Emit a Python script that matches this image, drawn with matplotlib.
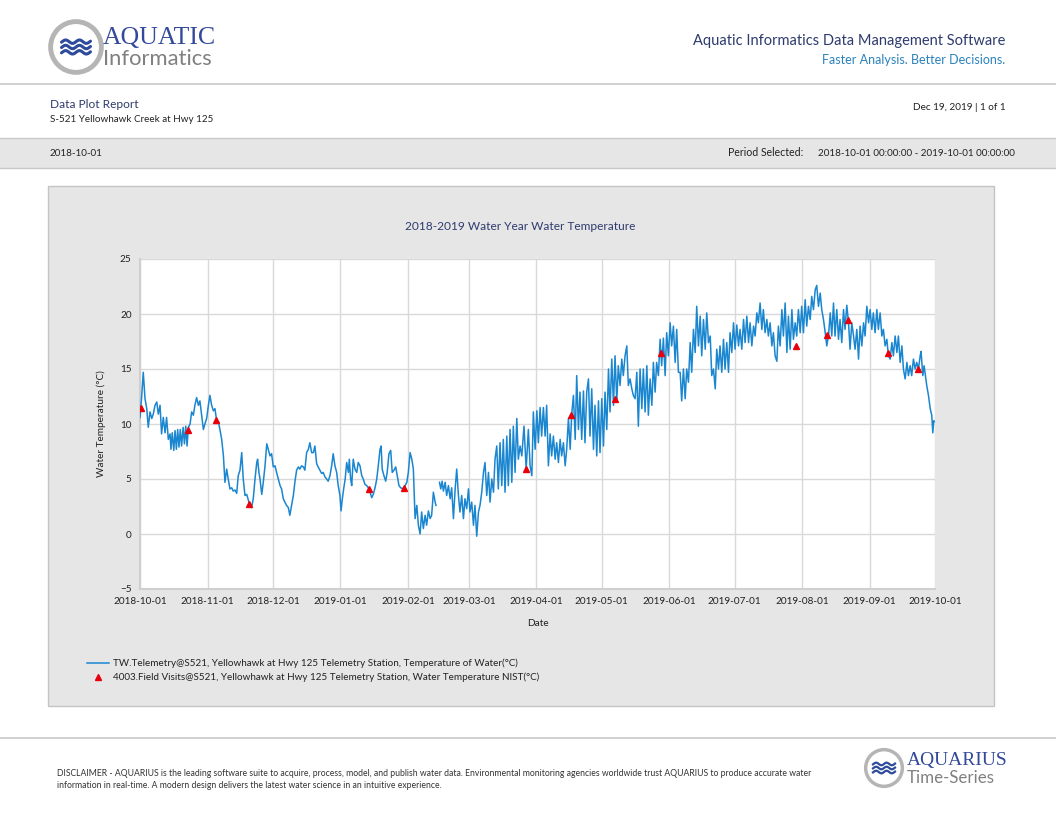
import numpy as np
import pandas as pd
import matplotlib
matplotlib.use("Agg")
import matplotlib.pyplot as plt
import matplotlib.dates as mdates
from matplotlib.patches import Rectangle, Circle
from matplotlib.lines import Line2D

# ---------------- data ----------------
start_date = "2018-10-01"
end_date = "2019-10-01"
y_ticks = [-5, 0, 5, 10, 15, 20, 25]

# Telemetry: days since 2018-10-01 and water temperature (°C)
tw_day = [
    0, 0.8, 1.5, 2.3, 3.1, 3.8, 4.6, 5.4, 6.1, 6.9, 7.7, 8.4, 9.2, 9.9, 10.7, 11.5, 12.2, 13.0, 13.8, 14.2,
    14.8, 15.5, 16.1, 16.7, 17.3, 17.9, 18.5, 19.1, 19.8, 20.4, 21.0, 21.6, 22.2, 23.0, 23.7, 24.5, 25.2, 26.0,
    26.8, 27.5, 28.3, 29.1, 29.8, 30.6, 31.4, 32.1, 32.9, 33.7, 34.4, 35.2, 36.0, 36.7, 37.5, 38.3, 39.0, 39.8,
    40.5, 41.3, 42.1, 42.8, 43.6, 44.4, 45.1, 45.9, 46.7, 47.4, 48.2, 49.0, 50.0, 51.2, 52.0, 52.8, 53.6, 54.0,
    54.6, 55.1, 55.9, 56.6, 57.4, 58.2, 58.9, 59.7, 60.4, 61.2, 62.0, 62.7, 63.5, 64.3, 65.0, 65.8, 66.5, 67.3,
    68.1, 68.8, 69.6, 70.4, 71.1, 71.9, 72.7, 73.4, 74.2, 75.0, 75.7, 76.5, 77.3, 78.0, 78.8, 79.6, 80.3, 81.1,
    81.8, 82.6, 83.4, 84.1, 84.9, 85.7, 86.4, 87.2, 88.0, 88.7, 89.5, 90.3, 91.0, 91.8, 92.3, 92.9, 93.5, 94.2,
    94.9, 95.7, 96.1, 96.7, 97.2, 97.9, 98.7, 99.5, 100.2, 101.0, 101.8, 102.5, 103.3, 104.1, 104.8, 105.6,
    106.4, 107.1, 107.9, 108.7, 109.4, 110.2, 110.7, 111.2, 112.0, 112.8, 113.5, 114.3, 115.1, 115.8, 116.6,
    117.4, 118.1, 118.9, 119.7, 120.9, 122.5, 123.2, 124.0, 124.8, 125.5, 126.3, 127.1, 127.8, 128.6, 129.3,
    130.1, 130.9, 131.6, 132.4, 133.2, 133.9, 134.7, 135.5, 135.9, 136.7, 137.5, 138.1, 138.7, 139.3, 140.1,
    140.8, 141.6, 142.4, 143.1, 143.9, 144.7, 145.4, 146.2, 146.9, 147.7, 148.5, 149.2, 150.0, 150.8, 151.5,
    152.3, 153.1, 153.8, 154.6, 155.4, 156.1, 156.9, 157.7, 158.4, 159.2, 160.0, 160.7, 161.5, 162.3, 163.0,
    163.8, 164.5, 165.3, 166.1, 166.8, 167.6, 168.4, 169.1, 169.9, 170.7, 171.4, 172.2, 173.0, 173.7, 174.5,
    175.3, 176.3, 177.3, 178.3, 179.1, 179.9, 180.6, 181.4, 182.2, 182.9, 183.7, 184.4, 185.2, 186.0, 186.7,
    187.5, 188.3, 189.0, 189.8, 190.6, 191.3, 192.1, 192.9, 193.6, 194.4, 195.2, 195.9, 196.7, 197.5, 198.2,
    199.0, 199.8, 200.5, 201.3, 202.0, 202.8, 203.6, 204.3, 205.1, 205.9, 206.6, 207.4, 208.2, 208.9, 209.7,
    210.5, 211.2, 212.0, 212.8, 213.5, 214.3, 215.1, 215.8, 216.6, 217.4, 218.1, 218.9, 219.6, 220.4, 221.2,
    221.9, 222.7, 223.5, 224.2, 225.0, 225.8, 226.5, 227.3, 228.1, 228.8, 229.6, 230.4, 231.1, 231.9, 232.7,
    233.4, 234.2, 235.0, 235.7, 236.5, 237.2, 238.0, 238.8, 239.5, 240.3, 241.1, 241.8, 242.6, 243.4, 244.1,
    244.9, 245.7, 246.4, 247.2, 248.0, 248.7, 249.5, 250.3, 251.0, 251.8, 252.6, 253.3, 254.1, 254.9, 255.6,
    256.4, 257.2, 257.9, 258.7, 259.5, 260.2, 261.0, 261.8, 262.5, 263.3, 264.1, 264.8, 265.6, 266.3, 267.1,
    267.9, 268.6, 269.4, 270.2, 270.9, 271.7, 272.5, 273.2, 274.0, 274.8, 275.5, 276.3, 277.1, 277.8, 278.6,
    279.4, 280.1, 280.9, 281.7, 282.4, 283.2, 283.9, 284.7, 285.5, 286.2, 287.0, 287.8, 288.5, 289.3, 290.1,
    290.8, 291.6, 292.4, 293.1, 293.9, 294.7, 295.4, 296.2, 297.0, 297.7, 298.5, 299.3, 300.0, 300.8, 301.5,
    302.3, 303.1, 303.8, 304.6, 305.4, 306.1, 306.9, 307.7, 308.4, 309.2, 310.0, 310.7, 311.5, 312.3, 313.0,
    313.8, 314.6, 315.3, 316.1, 316.9, 317.6, 318.4, 319.1, 319.9, 320.7, 321.4, 322.2, 323.0, 323.7, 324.5,
    325.3, 326.0, 326.8, 327.6, 328.3, 329.1, 329.9, 330.6, 331.4, 332.2, 332.9, 333.7, 334.5, 335.2, 336.0,
    336.7, 337.5, 338.3, 339.0, 339.8, 340.6, 341.3, 342.1, 342.9, 343.6, 344.4, 345.2, 345.9, 346.7, 347.5,
    348.2, 349.0, 349.8, 350.5, 351.3, 352.1, 352.8, 353.6, 354.3, 355.1, 355.9, 356.6, 357.4, 358.2, 358.6,
    359.4, 360.0, 360.8, 361.2, 362.0, 362.8, 363.5, 364.0, 364.4, 365.0,
]
tw_temp = [
    10.6, 12.6, 14.7, 12.3, 11.4, 9.7, 11.1, 10.5, 10.9, 11.7, 12.0, 10.9, 11.7, 9.1, 10.6, 9.2, 10.6, 8.6, 9.1, 7.7,
    9.2, 7.6, 9.4, 7.7, 9.5, 7.9, 9.5, 8.0, 9.7, 8.2, 9.8, 8.0, 9.7, 10.0, 11.1, 10.8, 11.7, 12.4,
    11.7, 12.1, 10.8, 9.5, 10.0, 10.5, 11.7, 12.6, 11.7, 11.2, 11.4, 10.3, 10.2, 9.5, 8.6, 7.1, 4.7, 5.9,
    5.0, 4.1, 4.2, 3.9, 4.0, 3.7, 5.3, 5.8, 7.4, 5.0, 3.5, 3.6, 2.9, 2.4, 3.2, 5.0, 6.5, 6.8,
    5.6, 5.0, 3.6, 4.7, 6.2, 8.2, 7.7, 7.1, 7.3, 6.1, 6.2, 5.6, 5.0, 4.4, 4.1, 3.2, 2.9, 2.6,
    2.4, 1.7, 2.6, 3.5, 4.7, 5.8, 6.1, 5.9, 6.2, 6.1, 5.8, 7.4, 7.7, 8.3, 7.4, 7.4, 8.0, 6.4,
    6.1, 5.8, 5.5, 5.6, 5.2, 5.0, 4.8, 5.3, 6.2, 7.3, 6.2, 5.6, 4.4, 3.5, 2.1, 3.2, 4.1, 5.0,
    6.5, 5.6, 6.8, 5.0, 4.4, 6.8, 5.9, 5.6, 6.5, 6.2, 5.3, 5.0, 4.5, 4.4, 4.2, 3.8,
    3.3, 3.6, 4.2, 5.0, 6.2, 7.7, 8.0, 5.9, 5.3, 4.8, 5.6, 7.3, 7.6, 5.6, 5.8,
    6.1, 5.3, 4.4, 4.2, 4.1, 4.7, 5.6, 7.4, 6.8, 5.9, 1.4, 2.6, 0.8, 0.0, 2.0,
    0.5, 1.7, 0.8, 2.1, 1.4, 1.7, 3.8, 2.9, 2.6, np.nan, 4.7, 4.1, 4.8, 3.9, 4.7,
    3.5, 4.4, 3.2, 4.2, 1.4, 4.1, 5.9, 3.5, 2.0, 3.5, 1.4, 3.2, 2.3, 4.1, 2.0,
    2.9, 0.8, 2.6, -0.2, 2.0, 2.6, 3.8, 5.6, 6.5, 3.5, 5.6, 2.9, 5.0, 3.8, 6.8,
    8.0, 4.1, 8.3, 4.4, 8.6, 3.8, 8.9, 4.4, 9.5, 4.7, 9.8, 5.6, 10.5, 6.8, 8.0,
    7.1, 9.8, 5.9, 9.5, 6.2, 5.3, 11.1, 7.7, 11.2, 8.3, 11.5, 8.9, 11.5, 8.9, 11.7,
    6.2, 9.1, 7.1, 8.9, 6.8, 8.3, 6.5, 8.6, 7.1, 8.3, 6.2, 7.7, 10.5, 7.7, 10.9,
    12.6, 8.6, 14.4, 9.5, 12.9, 8.6, 13.0, 8.3, 12.9, 14.1, 8.9, 13.2, 7.7, 11.7, 7.1,
    12.1, 7.4, 12.3, 8.0, 12.9, 9.5, 15.0, 11.1, 15.9, 11.7, 16.2, 12.0, 15.3, 13.5, 15.9,
    14.4, 16.2, 17.1, 13.5, 14.1, 13.2, 12.6, 12.3, 14.7, 9.8, 15.0, 11.4, 15.0, 11.1, 15.3,
    10.8, 14.1, 11.7, 15.6, 12.9, 15.6, 14.4, 17.7, 15.3, 17.8, 14.4, 18.3, 16.2, 19.2, 17.1,
    18.9, 15.6, 18.6, 14.7, 14.7, 12.1, 15.0, 12.3, 15.0, 13.8, 17.4, 14.7, 18.6, 16.5, 20.7,
    17.1, 19.8, 16.2, 19.5, 16.8, 20.1, 17.4, 18.0, 14.4, 15.0, 13.2, 16.8, 15.0, 17.1, 14.7,
    17.7, 15.0, 17.4, 14.7, 18.3, 16.5, 19.2, 16.8, 19.0, 17.1, 18.6, 16.8, 19.5, 17.4, 19.8,
    17.4, 19.2, 17.1, 18.9, 18.0, 20.1, 19.2, 21.0, 18.6, 20.4, 18.3, 19.5, 18.0, 19.2, 17.1,
    18.3, 16.2, 15.7, 18.9, 17.1, 20.4, 18.0, 21.0, 16.5, 19.8, 16.8, 20.4, 17.7, 19.2, 18.0,
    20.4, 18.3, 20.7, 18.3, 21.3, 18.9, 20.7, 19.5, 21.6, 20.4, 22.2, 22.6, 20.7, 21.9, 20.4,
    19.5, 18.3, 17.1, 18.0, 20.1, 18.0, 21.0, 18.0, 20.4, 17.7, 19.5, 17.4, 20.4, 18.6, 20.8,
    19.2, 16.8, 19.2, 18.0, 16.8, 18.6, 15.9, 18.9, 17.1, 19.2, 18.0, 20.7, 19.2, 20.4, 18.6,
    20.1, 18.3, 20.4, 18.6, 20.1, 18.0, 18.6, 17.1, 17.7, 16.2, 15.9, 17.4, 16.2, 18.0, 16.5,
    18.0, 15.6, 17.1, 15.0, 14.1, 15.6, 14.4, 15.3, 14.4, 15.9, 15.0, 15.6, 15.0, 16.2, 16.6,
    14.4, 15.3, 14.1, 13.5, 12.6, 11.4, 10.8, 9.2, 10.3, 10.2,
]

# Field visits
fv_day = [0.3, 22.1, 35.0, 50.0, 105.2, 121.0, 177.3, 198.0, 218.1, 239.2, 301.2, 315.4, 325.2, 343.4, 357.3]
fv_temp = [11.5, 9.5, 10.4, 2.7, 4.1, 4.2, 5.9, 10.8, 12.3, 16.5, 17.1, 18.1, 19.5, 16.5, 15.0]

title = "2018-2019 Water Year Water Temperature"
tw_label = "TW.Telemetry@S521, Yellowhawk at Hwy 125 Telemetry Station, Temperature of Water(\u00b0C)"
fv_label = "4003.Field Visits@S521, Yellowhawk at Hwy 125 Telemetry Station, Water Temperature NIST(\u00b0C)"

# ---------------- figure ----------------
W, H = 1056, 816
plt.rcParams['font.family'] = ['Lato', 'DejaVu Sans']
fig = plt.figure(figsize=(W / 100, H / 100), dpi=100)
fig.patch.set_facecolor("white")


def fx(x):
    return x / W


def fy(y):
    return 1 - y / H


NAVY = "#2e3b6e"
LBLUE = "#2a82bf"
GREY_LINE = "#c8c8c8"

# header
fig.text(fx(1005), fy(41), "Aquatic Informatics Data Management Software", ha="right", va="center",
         fontsize=10.5, color=NAVY)
fig.text(fx(1005), fy(60), "Faster Analysis. Better Decisions.", ha="right", va="center",
         fontsize=9, color=LBLUE)
fig.add_artist(Line2D([0, 1], [fy(84), fy(84)], color=GREY_LINE, lw=1.2, zorder=-5))

# logo (top left)
lax = fig.add_axes([fx(47), fy(76), fx(58), 58 / H])
lax.set_xlim(-1.2, 1.2)
lax.set_ylim(-1.2, 1.2)
lax.set_aspect("equal")
lax.axis("off")
lax.add_patch(Circle((0, 0), 1.05, fc="white", ec="#b5b5b5", lw=3.5))
wx = np.linspace(-0.6, 0.6, 60)
for off in (0.22, 0.0, -0.22):
    lax.plot(wx, off + 0.07 * np.sin(wx * 11), color="#2d4a9c", lw=2.2, solid_capstyle="round")
fig.text(fx(103), fy(38), "AQUATIC", ha="left", va="center", fontsize=18.5, color="#33499a",
         family=["Liberation Serif", "DejaVu Serif"])
fig.text(fx(103), fy(59), "Informatics", ha="left", va="center", fontsize=15.8, color="#808080")

# report info
fig.text(fx(50), fy(105), "Data Plot Report", ha="left", va="center", fontsize=8.6, color=NAVY)
fig.text(fx(50), fy(120), "S-521 Yellowhawk Creek at Hwy 125", ha="left", va="center", fontsize=7.1, color="#222222")
fig.text(fx(1006), fy(107), "Dec 19, 2019 | 1 of 1", ha="right", va="center", fontsize=7.2, color="#222222")

# grey band
fig.add_artist(Rectangle((0, fy(168)), 1, 30 / H, transform=fig.transFigure, fc="#e6e6e6",
                         ec="none", zorder=-5))
fig.add_artist(Line2D([0, 1], [fy(138), fy(138)], color=GREY_LINE, lw=1, zorder=-4))
fig.add_artist(Line2D([0, 1], [fy(168), fy(168)], color=GREY_LINE, lw=1, zorder=-4))
fig.text(fx(50), fy(153), "2018-10-01", ha="left", va="center", fontsize=7.1, color="#222222")
fig.text(fx(803), fy(153), "Period Selected:", ha="right", va="center", fontsize=7.6, color="#222222")
fig.text(fx(818), fy(153), "2018-10-01 00:00:00 - 2019-10-01 00:00:00", ha="left", va="center",
         fontsize=7.1, color="#222222")

# chart panel
fig.add_artist(Rectangle((fx(48), fy(706)), fx(946), 520 / H, transform=fig.transFigure,
                         fc="#e6e6e6", ec="#c4c4c4", lw=1, zorder=-5))
fig.text(fx(520), fy(226), title, ha="center", va="center", fontsize=8.6, color=NAVY)

ax = fig.add_axes([fx(140), fy(589), fx(795), 330 / H])
ax.set_facecolor("white")
t0 = pd.Timestamp(start_date)
tw_x = t0 + pd.to_timedelta(np.array(tw_day), unit="D")
fv_x = t0 + pd.to_timedelta(np.array(fv_day), unit="D")
ax.plot(tw_x, tw_temp, color="#1a86d0", lw=1.1, label=tw_label, zorder=3)
ax.plot(fv_x, fv_temp, linestyle="none", marker="^", color="#e8000b", markersize=5, label=fv_label, zorder=4)

ax.set_xlim(t0, pd.Timestamp(end_date))
ax.set_ylim(-5, 25)
ax.set_yticks(y_ticks)
ax.xaxis.set_major_locator(mdates.MonthLocator())
ax.xaxis.set_major_formatter(mdates.DateFormatter("%Y-%m-%d"))
ax.grid(True, color="#d9d9d9", lw=1)
ax.set_axisbelow(True)
for side in ("top", "right"):
    ax.spines[side].set_visible(False)
for side in ("left", "bottom"):
    ax.spines[side].set_color("#cfcfcf")
    ax.spines[side].set_linewidth(1.5)
ax.tick_params(length=0, labelsize=7.2, labelcolor="#222222", pad=6)
ax.set_xlabel("Date", fontsize=7.2, color="#222222", labelpad=9)
ax.set_ylabel("Water Temperature (\u00b0C)", fontsize=7.2, color="#222222", labelpad=10)

fig.legend(loc="upper left", bbox_to_anchor=(fx(83), fy(655)), frameon=False, fontsize=7.1,
           handlelength=2.2, handletextpad=0.45, labelspacing=0.45, borderaxespad=0,
           labelcolor="#222222")

# footer
fig.add_artist(Line2D([0, 1], [fy(738), fy(738)], color=GREY_LINE, lw=1.2, zorder=-5))
fig.text(fx(57), fy(774),
         "DISCLAIMER - AQUARIUS is the leading software suite to acquire, process, model, and publish water data. "
         "Environmental monitoring agencies worldwide trust AQUARIUS to produce accurate water",
         ha="left", va="center", fontsize=6.2, color="#333333")
fig.text(fx(57), fy(786),
         "information in real-time. A modern design delivers the latest water science in an intuitive experience.",
         ha="left", va="center", fontsize=6.2, color="#333333")
fax = fig.add_axes([fx(862), fy(790), fx(44), 44 / H])
fax.set_xlim(-1.2, 1.2)
fax.set_ylim(-1.2, 1.2)
fax.set_aspect("equal")
fax.axis("off")
fax.add_patch(Circle((0, 0), 1.0, fc="white", ec="#b5b5b5", lw=2.5))
for off in (0.22, 0.0, -0.22):
    fax.plot(wx, off + 0.07 * np.sin(wx * 11), color="#2d4a9c", lw=1.6)
fig.text(fx(907), fy(761), "AQUARIUS", ha="left", va="center", fontsize=14, color="#33499a",
         family=["Liberation Serif", "DejaVu Serif"])
fig.text(fx(907), fy(778), "Time-Series", ha="left", va="center", fontsize=12.2, color="#808080")

fig.savefig("out.png", dpi=100)
